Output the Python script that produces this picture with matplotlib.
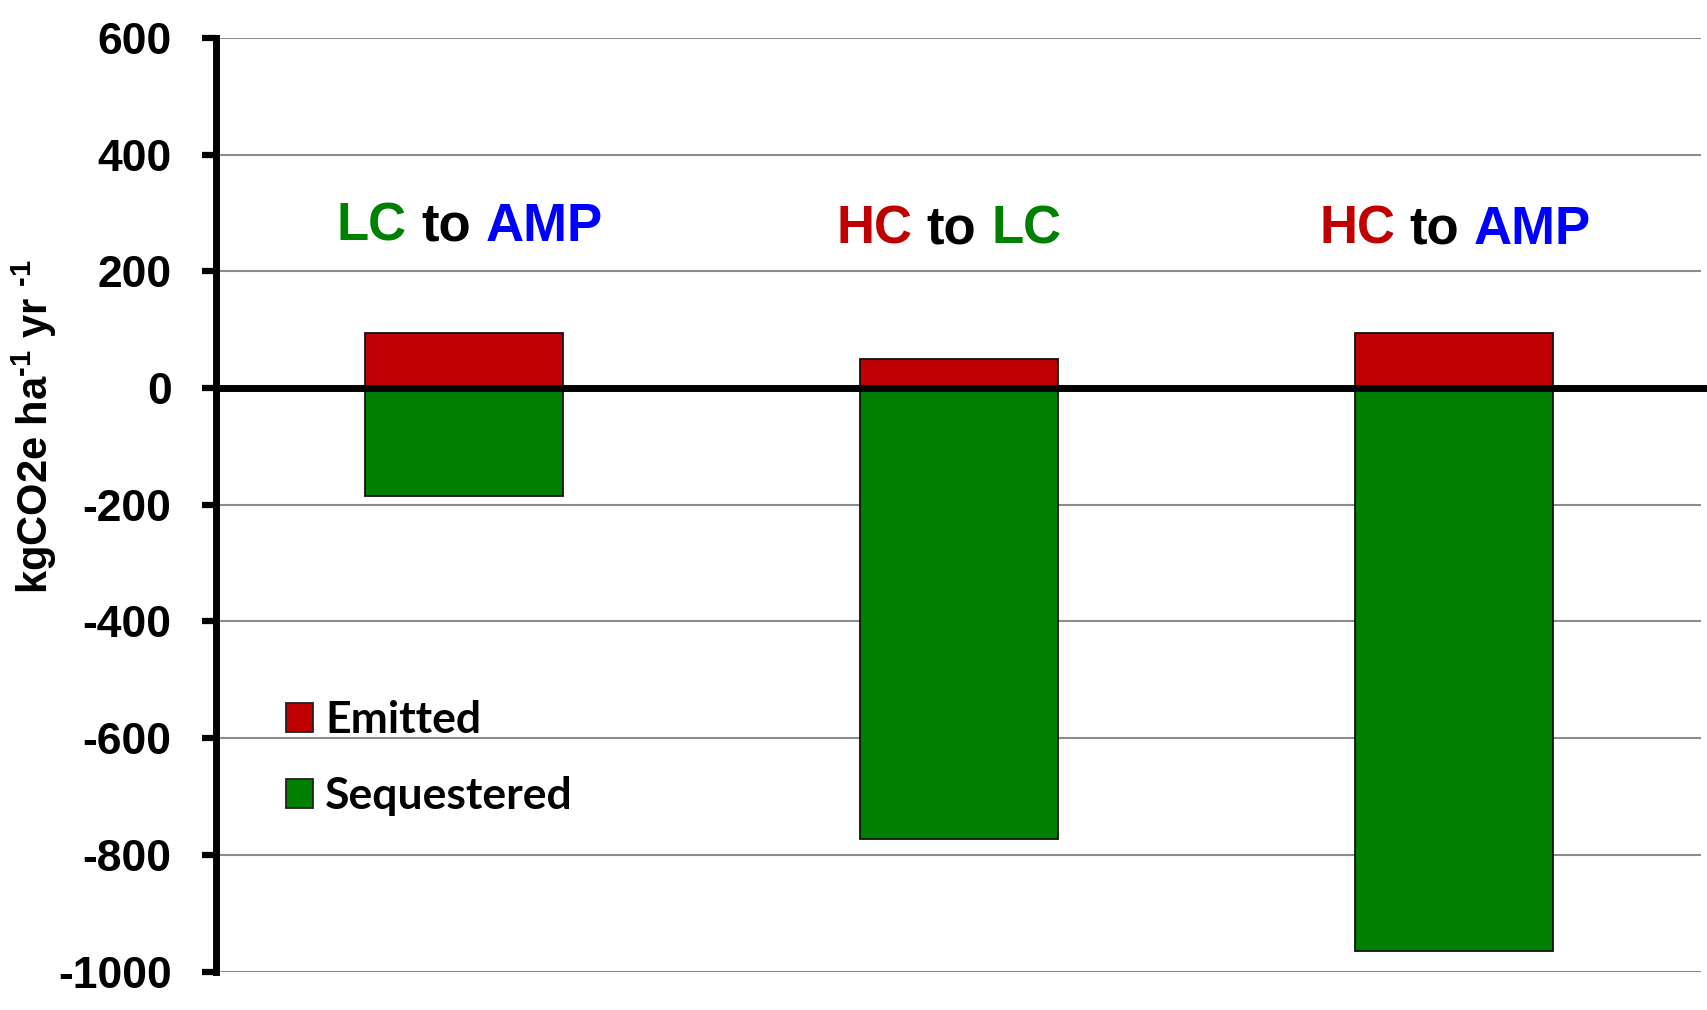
import matplotlib
matplotlib.use("Agg")
import matplotlib.pyplot as plt
from matplotlib.patches import Patch

plt.rcParams["mathtext.fontset"] = "custom"
plt.rcParams["mathtext.rm"] = "Liberation Sans:bold"
plt.rcParams["mathtext.bf"] = "Liberation Sans:bold"
plt.rcParams["mathtext.it"] = "Liberation Sans:bold"

categories = ["LC to AMP", "HC to LC", "HC to AMP"]
emitted = [95, 50, 95]
sequestered = [-185, -772, -965]
yticks = [600, 400, 200, 0, -200, -400, -600, -800, -1000]

# colored pieces of each category label
label_parts = [
    [("LC", "#008000"), ("to", "#000000"), ("AMP", "#0000FF")],
    [("HC", "#C00000"), ("to", "#000000"), ("LC", "#008000")],
    [("HC", "#C00000"), ("to", "#000000"), ("AMP", "#0000FF")],
]
label_x = [0.012, 0.98, 2.003]
label_y = [276, 271, 271]

RED = "#C00000"
GREEN = "#008000"

fig = plt.figure(figsize=(17.08, 10.10), dpi=100)
ax = fig.add_axes([0.1265, 0.038, 0.8695, 0.9245])

x = list(range(len(categories)))
ax.bar(x, emitted, width=0.40, color=RED, edgecolor="#111111", linewidth=1.3, zorder=3)
ax.bar(x, sequestered, width=0.40, color=GREEN, edgecolor="#111111", linewidth=1.3, zorder=3)

ax.set_xlim(-0.5, 2.5)
ax.set_ylim(-1000, 600)
ax.set_yticks(yticks)
ax.set_yticklabels([str(v) for v in yticks])
ax.set_xticks([])

ax.grid(axis="y", color="#8c8c8c", linewidth=1.5, zorder=0)
ax.set_axisbelow(True)

for s in ["top", "right", "bottom"]:
    ax.spines[s].set_visible(False)
ax.spines["left"].set_linewidth(5)
ax.spines["left"].set_color("black")
ax.spines["left"].set_zorder(5)

ax.tick_params(axis="y", direction="out", length=10, width=4.5, color="black", pad=22)
for lab in ax.get_yticklabels():
    lab.set_fontfamily("Liberation Sans")
    lab.set_fontweight("bold")
    lab.set_fontsize(32)

# zero line extends to figure edge
ax.plot([0, 1.01], [0, 0], transform=ax.get_yaxis_transform(), color="black",
        linewidth=5, zorder=6, clip_on=False, solid_capstyle="butt")

fig.text(0.020, 0.578, r"kgCO2e ha$^{\text{-1}}$ yr $^{\text{-1}}$", rotation=90,
         ha="center", va="center", fontsize=30, fontweight="bold",
         family="Liberation Sans")

# legend
handles = [Patch(facecolor=RED, edgecolor="#222222", linewidth=1.3, label="Emitted"),
           Patch(facecolor=GREEN, edgecolor="#222222", linewidth=1.3, label="Sequestered")]
leg = ax.legend(handles=handles, loc="upper left", bbox_to_anchor=(0.047, 0.291),
                frameon=False, prop={"family": "Lato", "weight": "bold", "size": 32},
                handlelength=0.61, handleheight=0.61, handletextpad=0.27,
                labelspacing=0.81, borderpad=0, borderaxespad=0)

# multi-colored category labels
fig.canvas.draw()
renderer = fig.canvas.get_renderer()
fp = dict(fontsize=38, fontweight="bold", family="Liberation Sans")

def width_of(s):
    t = ax.text(0, 0, s, **fp)
    w = t.get_window_extent(renderer).width
    t.remove()
    return w

space_w = width_of("a a") - width_of("aa")
inv = ax.transData.inverted()
for i, parts in enumerate(label_parts):
    widths = [width_of(p) for p, _ in parts]
    total = sum(widths) + space_w * (len(parts) - 1)
    cx, cy = ax.transData.transform((label_x[i], label_y[i]))
    cur = cx - total / 2
    for (p, c), w in zip(parts, widths):
        dx, dy = inv.transform((cur, cy))
        ax.text(dx, dy, p, color=c, ha="left", va="center", **fp)
        cur += w + space_w

fig.savefig("out.png", dpi=100)
